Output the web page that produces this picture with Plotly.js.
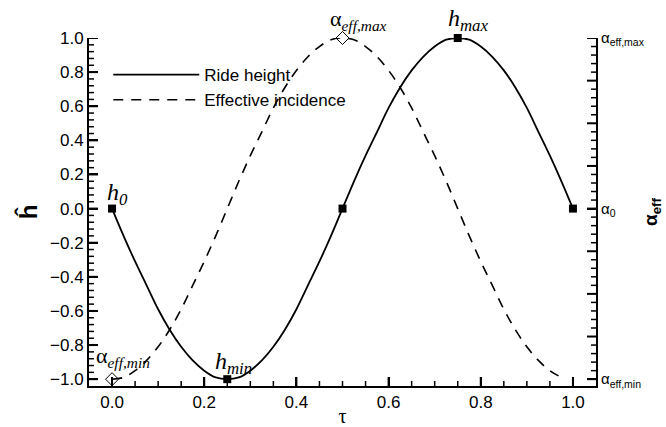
<!DOCTYPE html>
<html>
<head>
<meta charset="utf-8">
<script src="https://cdn.plot.ly/plotly-3.0.1.min.js"></script>
<style>html,body{margin:0;padding:0;background:#fff}#chart{width:666px;height:427px}</style>
</head>
<body>
<div id="chart"></div>
<script>
// Data
var tau = [0, 0.025, 0.05, 0.075, 0.1, 0.125, 0.15, 0.175, 0.2, 0.225, 0.25, 0.275, 0.3, 0.325, 0.35, 0.375, 0.4, 0.425, 0.45, 0.475, 0.5, 0.525, 0.55, 0.575, 0.6, 0.625, 0.65, 0.675, 0.7, 0.725, 0.75, 0.775, 0.8, 0.825, 0.85, 0.875, 0.9, 0.925, 0.95, 0.975, 1.0];
var rideHeight = [0, -0.16, -0.31, -0.45, -0.59, -0.71, -0.81, -0.89, -0.95, -0.99, -1.0, -0.99, -0.95, -0.89, -0.81, -0.71, -0.59, -0.45, -0.31, -0.16, 0, 0.16, 0.31, 0.45, 0.59, 0.71, 0.81, 0.89, 0.95, 0.99, 1.0, 0.99, 0.95, 0.89, 0.81, 0.71, 0.59, 0.45, 0.31, 0.16, 0];
var tauInc = [0, 0.025, 0.05, 0.075, 0.1, 0.125, 0.15, 0.175, 0.2, 0.225, 0.25, 0.275, 0.3, 0.325, 0.35, 0.375, 0.4, 0.425, 0.45, 0.475, 0.5, 0.525, 0.55, 0.575, 0.6, 0.625, 0.65, 0.675, 0.7, 0.725, 0.75, 0.775, 0.8, 0.825, 0.85, 0.875, 0.9, 0.925, 0.95, 0.975];
var effIncidence = [-1.0, -0.99, -0.95, -0.89, -0.81, -0.71, -0.59, -0.45, -0.31, -0.16, 0, 0.16, 0.31, 0.45, 0.59, 0.71, 0.81, 0.89, 0.95, 0.99, 1.0, 0.99, 0.95, 0.89, 0.81, 0.71, 0.59, 0.45, 0.31, 0.16, 0, -0.16, -0.31, -0.45, -0.59, -0.71, -0.81, -0.89, -0.95, -0.99];
var hMarkTau = [0, 0.25, 0.5, 0.75, 1.0];
var hMarkVal = [0, -1, 0, 1, 0];
var aMarkTau = [0, 0.5];
var aMarkVal = [-1, 1];
var xMajorTicks = [0, 0.2, 0.4, 0.6, 0.8, 1.0];
var xMinorTicks = [0.05, 0.1, 0.15, 0.25, 0.3, 0.35, 0.45, 0.5, 0.55, 0.65, 0.7, 0.75, 0.85, 0.9, 0.95];
var leftTicks = [-1.0, -0.8, -0.6, -0.4, -0.2, 0.0, 0.2, 0.4, 0.6, 0.8, 1.0];
var rightTickVals = [-1, 0, 1];
var rightTickText = ['α<sub>eff,min</sub>', 'α<sub>0</sub>', 'α<sub>eff,max</sub>'];
var rightMajorTicks = [-1, -0.75, -0.5, -0.25, 0, 0.25, 0.5, 0.75, 1];
var seriesNames = ['Ride height', 'Effective incidence'];

// minor tick positions (axis decoration only)
var leftMinorTicks = [];
for (var k = -25; k <= 25; k++) { if (k % 5 !== 0) leftMinorTicks.push(Math.round(k * 4) / 100); }
var rightMinorTicks = [];
for (var j = -20; j <= 20; j++) { if (j % 5 !== 0) rightMinorTicks.push(Math.round(j * 5) / 100); }

var sans = 'Liberation Sans, Arial, sans-serif';
var serif = 'Liberation Serif, Times New Roman, serif';
var xRange = [-0.05, 1.05];
var yRange = [-1.04, 1.0];

var traces = [
  {x: tau, y: rideHeight, mode: 'lines', name: seriesNames[0], line: {color: '#000', width: 1.8, shape: 'spline'}, cliponaxis: false},
  {x: tauInc, y: effIncidence, yaxis: 'y2', mode: 'lines', name: seriesNames[1], line: {color: '#000', width: 1.6, dash: '10px,8px', shape: 'spline'}, cliponaxis: false},
  {x: hMarkTau, y: hMarkVal, mode: 'markers', showlegend: false, marker: {symbol: 'square', size: 8, color: '#000'}, cliponaxis: false},
  {x: aMarkTau, y: aMarkVal, yaxis: 'y2', mode: 'markers', showlegend: false, marker: {symbol: 'diamond-open', size: 10, color: '#000', line: {width: 1}}, cliponaxis: false}
];

// tick marks drawn through the axes' scales
var shapes = [];
function xTick(v, len, w) {
  shapes.push({type: 'line', xref: 'x', x0: v, x1: v, yref: 'paper', ysizemode: 'pixel', yanchor: 0, y0: 0, y1: len, line: {color: '#000', width: w}});
}
function yTick(v, yref, side, len, w) {
  shapes.push({type: 'line', yref: yref, y0: v, y1: v, xref: 'paper', xsizemode: 'pixel', xanchor: side,
    x0: 0, x1: side === 0 ? len : -len, line: {color: '#000', width: w}});
}
xMajorTicks.forEach(function(v) { xTick(v, 9, 2); });
xMinorTicks.forEach(function(v) { xTick(v, 5, 1.5); });
leftTicks.forEach(function(v) { yTick(v, 'y', 0, 9, 2); });
leftMinorTicks.forEach(function(v) { yTick(v, 'y', 0, 5, 1.5); });
rightMajorTicks.forEach(function(v) { yTick(v, 'y2', 1, 9, 2); });
rightMinorTicks.forEach(function(v) { yTick(v, 'y2', 1, 5, 1.5); });

function ax(extra) {
  var base = {showgrid: false, zeroline: false, showline: true, linecolor: '#000', linewidth: 2,
    ticks: 'inside', ticklen: 9, tickwidth: 2, tickcolor: '#000'};
  for (var k in extra) base[k] = extra[k];
  return base;
}

var layout = {
  width: 666, height: 427,
  margin: {l: 89, r: 70, t: 38, b: 41},
  font: {family: sans, size: 17, color: '#000'},
  showlegend: true,
  legend: {x: 0.038, y: 0.945, xanchor: 'left', yanchor: 'top', bgcolor: 'rgba(0,0,0,0)', font: {family: sans, size: 17}, itemwidth: 86},
  xaxis: ax({
    range: xRange, tickmode: 'array', tickvals: xMajorTicks, tickformat: '.1f',
    title: {text: 'τ', font: {family: serif, size: 20}, standoff: 6}
  }),
  yaxis: ax({
    range: yRange, tickmode: 'array', tickvals: leftTicks, tickformat: '.1f',
    title: {text: '<b>ĥ</b>', font: {family: sans, size: 24}, standoff: 6}
  }),
  yaxis2: ax({
    overlaying: 'y', side: 'right', anchor: 'x',
    range: yRange, tickmode: 'array', tickvals: rightTickVals, ticktext: rightTickText,
    tickfont: {family: sans, size: 15},
    title: {text: '<b>α<sub>eff</sub></b>', font: {family: sans, size: 19}, standoff: 0}
  }),
  shapes: shapes,
  annotations: [
    {x: 0, y: 0, xref: 'x', yref: 'y', text: '<i>h</i><sub><i>0</i></sub>', showarrow: false, xanchor: 'center', yanchor: 'bottom', xshift: 5, yshift: -2, font: {family: serif, size: 24}},
    {x: 0.25, y: -1, xref: 'x', yref: 'y', text: '<i>h</i><sub><i>min</i></sub>', showarrow: false, xanchor: 'center', yanchor: 'bottom', xshift: 6, yshift: -1, font: {family: serif, size: 24}},
    {x: 0.75, y: 1, xref: 'x', yref: 'y', text: '<i>h</i><sub><i>max</i></sub>', showarrow: false, xanchor: 'center', yanchor: 'bottom', xshift: 11, yshift: 1, font: {family: serif, size: 24}},
    {x: 0.5, y: 1, xref: 'x', yref: 'y2', text: 'α<sub><i>eff,max</i></sub>', showarrow: false, xanchor: 'center', yanchor: 'bottom', xshift: 16, yshift: 2, font: {family: serif, size: 22}},
    {x: 0, y: -1, xref: 'x', yref: 'y2', text: 'α<sub><i>eff,min</i></sub>', showarrow: false, xanchor: 'center', yanchor: 'bottom', xshift: 11, yshift: 6, font: {family: serif, size: 22}}
  ]
};

Plotly.newPlot('chart', traces, layout, {displayModeBar: false});
</script>
</body>
</html>
